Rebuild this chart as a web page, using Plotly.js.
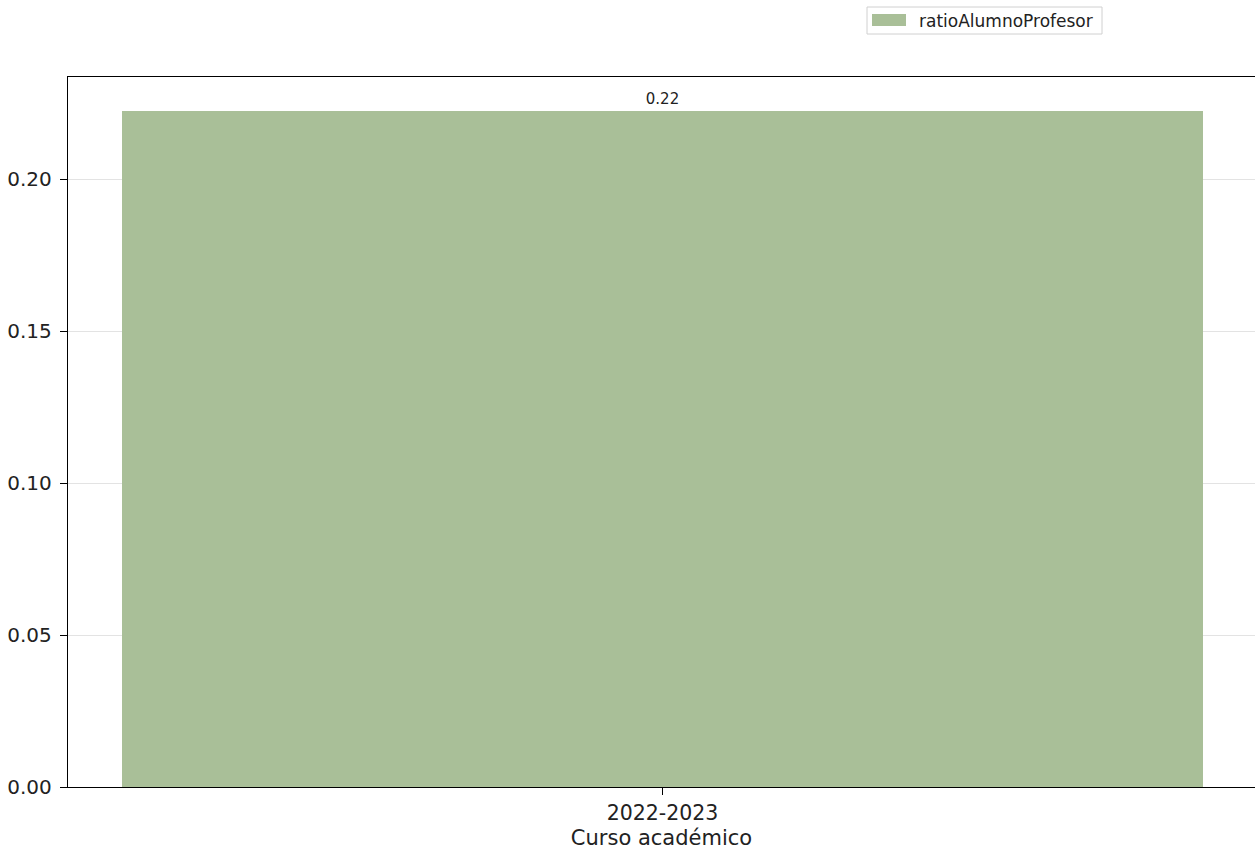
<!DOCTYPE html>
<html>
<head>
<meta charset="utf-8">
<script src="https://cdn.plot.ly/plotly-3.0.1.min.js"></script>
<style>html,body{margin:0;padding:0;background:#fff;}#chart{width:1255px;height:852px;}</style>
</head>
<body>
<div id="chart"></div>
<script>
const categories = ["2022-2023"];
const ratioAlumnoProfesor = [0.2225];
const seriesName = "ratioAlumnoProfesor";
const yTickVals = [0, 0.05, 0.10, 0.15, 0.20];
const yTickText = ["0.00", "0.05", "0.10", "0.15", "0.20"];
const barColor = '#a9bf98';

const W = 1255, H = 852;
const M = {l: 68, r: 0, t: 77, b: 65};
const pw = W - M.l - M.r, ph = H - M.t - M.b;
const px = x => (x - M.l) / pw;
const py = y => (H - M.b - y) / ph;

const trace = {
  type: 'bar',
  x: [0],
  y: ratioAlumnoProfesor,
  width: 0.8,
  name: seriesName,
  marker: {color: barColor, line: {width: 0}},
  text: ratioAlumnoProfesor.map(v => v.toFixed(2)),
  textposition: 'outside',
  textfont: {family: 'DejaVu Sans', size: 15, color: '#222'},
  cliponaxis: false,
  showlegend: false
};

const layout = {
  width: W, height: H,
  margin: M,
  paper_bgcolor: '#fff', plot_bgcolor: '#fff',
  font: {family: 'DejaVu Sans', color: '#222', size: 20},
  showlegend: false,
  bargap: 0,
  xaxis: {
    range: [-0.44, 0.4385],
    tickvals: [0], ticktext: categories,
    ticks: 'outside', ticklen: 7, tickcolor: '#000',
    showline: true, linecolor: '#000', linewidth: 1.3, mirror: true,
    showgrid: false, zeroline: false,
    tickfont: {size: 20.5, color: '#222'},
    title: {text: 'Curso académico', font: {size: 21, color: '#222'}, standoff: 6}
  },
  yaxis: {
    range: [0, 0.2336],
    tickvals: yTickVals, ticktext: yTickText,
    ticks: 'outside', ticklen: 7, tickcolor: '#000',
    ticklabelstandoff: 4,
    showline: true, linecolor: '#000', linewidth: 1.3,
    showgrid: true, gridcolor: '#e3e3e3', gridwidth: 1,
    zeroline: false,
    tickfont: {size: 20, color: '#222'}
  },
  shapes: [
    {type: 'rect', xref: 'paper', yref: 'paper', x0: px(867), x1: px(1102), y0: py(34), y1: py(7),
     line: {color: '#d0d0d0', width: 1}, fillcolor: '#fff'},
    {type: 'rect', xref: 'paper', yref: 'paper', x0: px(872), x1: px(906), y0: py(26), y1: py(14),
     line: {width: 0}, fillcolor: barColor}
  ],
  annotations: [
    {xref: 'paper', yref: 'paper', x: px(917), y: py(20.5), xanchor: 'left', yanchor: 'middle',
     text: seriesName, showarrow: false, font: {family: 'DejaVu Sans', size: 17, color: '#222'}}
  ]
};

Plotly.newPlot('chart', [trace], layout, {displayModeBar: false, staticPlot: true});
</script>
</body>
</html>
